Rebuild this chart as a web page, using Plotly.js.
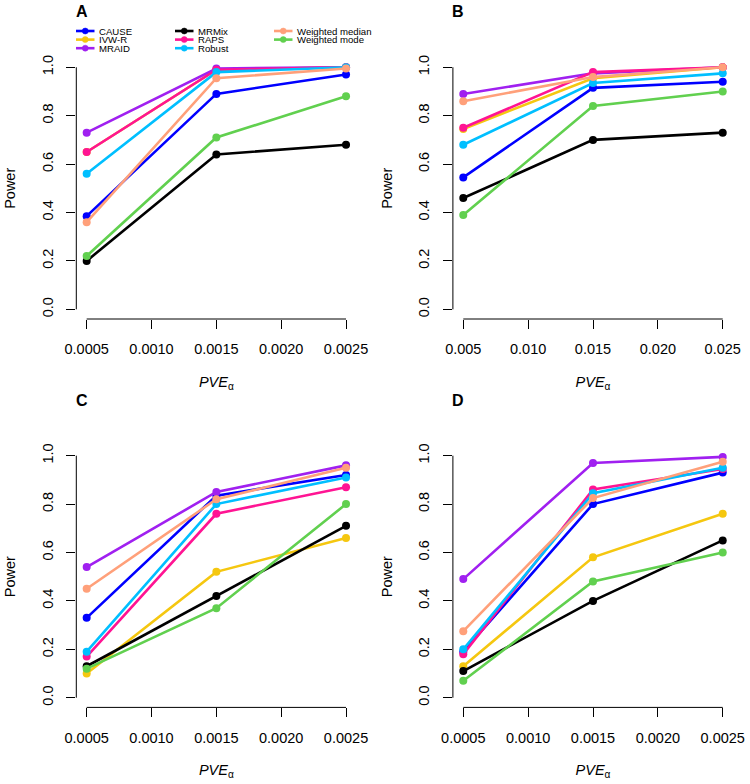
<!DOCTYPE html>
<html>
<head>
<meta charset="utf-8">
<script src="https://cdn.plot.ly/plotly-3.0.1.min.js"></script>
<style>html,body{margin:0;padding:0;background:#fff;}#plot{width:750px;height:784px;}</style>
</head>
<body>
<div id="plot"></div>
<script>
// ---------- data ----------
const methods = ["CAUSE", "IVW-R", "MRAID", "MRMix", "RAPS", "Robust", "Weighted median", "Weighted mode"];
const colors  = ["#0000FF", "#F5C710", "#A020F0", "#000000", "#FF1493", "#00BFFF", "#FFA07A", "#61D04F"];

const pveSmall = [0.0005, 0.0015, 0.0025];
const pveLarge = [0.005, 0.015, 0.025];
const ticksSmall = [0.0005, 0.0010, 0.0015, 0.0020, 0.0025];
const tickTextSmall = ["0.0005", "0.0010", "0.0015", "0.0020", "0.0025"];
const ticksLarge = [0.005, 0.010, 0.015, 0.020, 0.025];
const tickTextLarge = ["0.005", "0.010", "0.015", "0.020", "0.025"];
const ticksPower = [0, 0.2, 0.4, 0.6, 0.8, 1.0];
const tickTextPower = ["0.0", "0.2", "0.4", "0.6", "0.8", "1.0"];

// power per method (order as in methods), panel A
const powerA = [
  [0.385, 0.89, 0.97],
  [0.65, 0.99, 1.0],
  [0.73, 0.995, 1.0],
  [0.20, 0.64, 0.68],
  [0.65, 0.99, 1.0],
  [0.56, 0.98, 1.0],
  [0.36, 0.955, 0.995],
  [0.22, 0.71, 0.88]
];
// panel B
const powerB = [
  [0.545, 0.915, 0.94],
  [0.745, 0.955, 1.0],
  [0.89, 0.975, 1.0],
  [0.46, 0.70, 0.73],
  [0.75, 0.98, 1.0],
  [0.68, 0.935, 0.975],
  [0.86, 0.96, 1.0],
  [0.39, 0.84, 0.90]
];
// panel C
const powerC = [
  [0.33, 0.835, 0.92],
  [0.10, 0.52, 0.66],
  [0.54, 0.85, 0.96],
  [0.13, 0.42, 0.71],
  [0.17, 0.76, 0.87],
  [0.19, 0.80, 0.91],
  [0.45, 0.82, 0.95],
  [0.12, 0.37, 0.80]
];
// panel D
const powerD = [
  [0.19, 0.80, 0.93],
  [0.13, 0.58, 0.76],
  [0.49, 0.97, 0.995],
  [0.11, 0.40, 0.65],
  [0.18, 0.86, 0.945],
  [0.20, 0.845, 0.95],
  [0.275, 0.825, 0.975],
  [0.07, 0.48, 0.60]
];
const panelLetters = ["A", "B", "C", "D"];

// ---------- build ----------
const FONT = "Arial, 'Liberation Sans', Helvetica, sans-serif";
const W = 750, H = 784;
const panels = [
  {x: pveSmall, y: powerA, ticks: ticksSmall, tt: tickTextSmall, xd: [76.3, 356.4], yd: [57.6, 319]},
  {x: pveLarge, y: powerB, ticks: ticksLarge, tt: tickTextLarge, xd: [452.9, 733.1], yd: [57.6, 319]},
  {x: pveSmall, y: powerC, ticks: ticksSmall, tt: tickTextSmall, xd: [76.3, 356.4], yd: [446, 707.4]},
  {x: pveSmall, y: powerD, ticks: ticksSmall, tt: tickTextSmall, xd: [452.9, 733.1], yd: [446, 707.4]}
];

const traces = [];
const layout = {
  width: W, height: H,
  margin: {l: 0, r: 0, t: 0, b: 0},
  paper_bgcolor: "#fff", plot_bgcolor: "#fff",
  showlegend: false,
  font: {family: FONT, color: "#000", size: 14},
  shapes: [], annotations: []
};

panels.forEach((p, k) => {
  const sfx = k === 0 ? "" : String(k + 1);
  methods.forEach((m, i) => {
    traces.push({
      type: "scatter", mode: "lines+markers",
      x: p.x, y: p.y[i], name: m,
      xaxis: "x" + sfx, yaxis: "y" + sfx,
      line: {color: colors[i], width: 2.6},
      marker: {color: colors[i], size: 8},
      hoverinfo: "x+y+name"
    });
  });
  const lo = p.ticks[0], hi = p.ticks[p.ticks.length - 1];
  const pad = (hi - lo) * 0.04;
  layout["xaxis" + sfx] = {
    domain: [p.xd[0] / W, p.xd[1] / W],
    anchor: "y" + sfx,
    range: [lo - pad, hi + pad],
    tickvals: p.ticks, ticktext: p.tt,
    ticks: "outside", ticklen: 9, tickwidth: 1, tickcolor: "#000",
    showline: false, showgrid: false, zeroline: false,
    tickfont: {size: 14.5, family: FONT},
    ticklabelstandoff: 8,
    title: {text: "<i>PVE</i><sub>α</sub>", font: {size: 14.5, family: FONT}, standoff: 20}
  };
  layout["yaxis" + sfx] = {
    domain: [1 - p.yd[1] / H, 1 - p.yd[0] / H],
    anchor: "x" + sfx,
    range: [-0.04, 1.04],
    tickvals: ticksPower, ticktext: tickTextPower,
    tickangle: -90,
    ticks: "outside", ticklen: 9, tickwidth: 1, tickcolor: "#000",
    showline: false, showgrid: false, zeroline: false,
    tickfont: {size: 14.5, family: FONT},
    ticklabelstandoff: 8,
    title: {text: "Power", font: {size: 14.5, family: FONT}, standoff: 20}
  };
  // R-style axis lines spanning only the tick range
  layout.shapes.push({
    type: "line", xref: "x" + sfx, yref: "y" + sfx + " domain",
    x0: lo, x1: hi, y0: 0, y1: 0, line: {color: "#000", width: 1}
  });
  layout.shapes.push({
    type: "line", xref: "x" + sfx + " domain", yref: "y" + sfx,
    x0: 0, x1: 0, y0: ticksPower[0], y1: ticksPower[ticksPower.length - 1], line: {color: "#000", width: 1}
  });
  // panel letter
  layout.annotations.push({
    text: "<b>" + panelLetters[k] + "</b>", xref: "paper", yref: "paper",
    x: (p.xd[0] + 5.5) / W, y: 1 - (p.yd[0] - 46) / H,
    xanchor: "center", yanchor: "middle", showarrow: false,
    font: {size: 16, family: FONT}
  });
});

// legend (R-style, three columns, inside panel A)
const legCols = [76, 175, 274];
const legRows = [31, 39.6, 48.2];
methods.forEach((m, i) => {
  const c = Math.floor(i / 3), r = i % 3;
  const x0 = legCols[c], x1 = x0 + 18.5, yy = legRows[r];
  layout.shapes.push({
    type: "line", xref: "paper", yref: "paper",
    x0: x0 / W, x1: x1 / W, y0: 1 - yy / H, y1: 1 - yy / H,
    line: {color: colors[i], width: 2.6}
  });
  layout.shapes.push({
    type: "circle", xref: "paper", yref: "paper",
    xsizemode: "pixel", ysizemode: "pixel",
    xanchor: (x0 + x1) / 2 / W, yanchor: 1 - yy / H,
    x0: -3, x1: 3, y0: -3, y1: 3,
    fillcolor: colors[i], line: {color: colors[i], width: 0.5}
  });
  layout.annotations.push({
    text: m, xref: "paper", yref: "paper",
    x: (x1 + 3.5) / W, y: 1 - yy / H,
    xanchor: "left", yanchor: "middle", showarrow: false,
    borderpad: 0,
    font: {size: 9.6, family: FONT}
  });
});

Plotly.newPlot("plot", traces, layout, {displayModeBar: false, staticPlot: true});
</script>
</body>
</html>
